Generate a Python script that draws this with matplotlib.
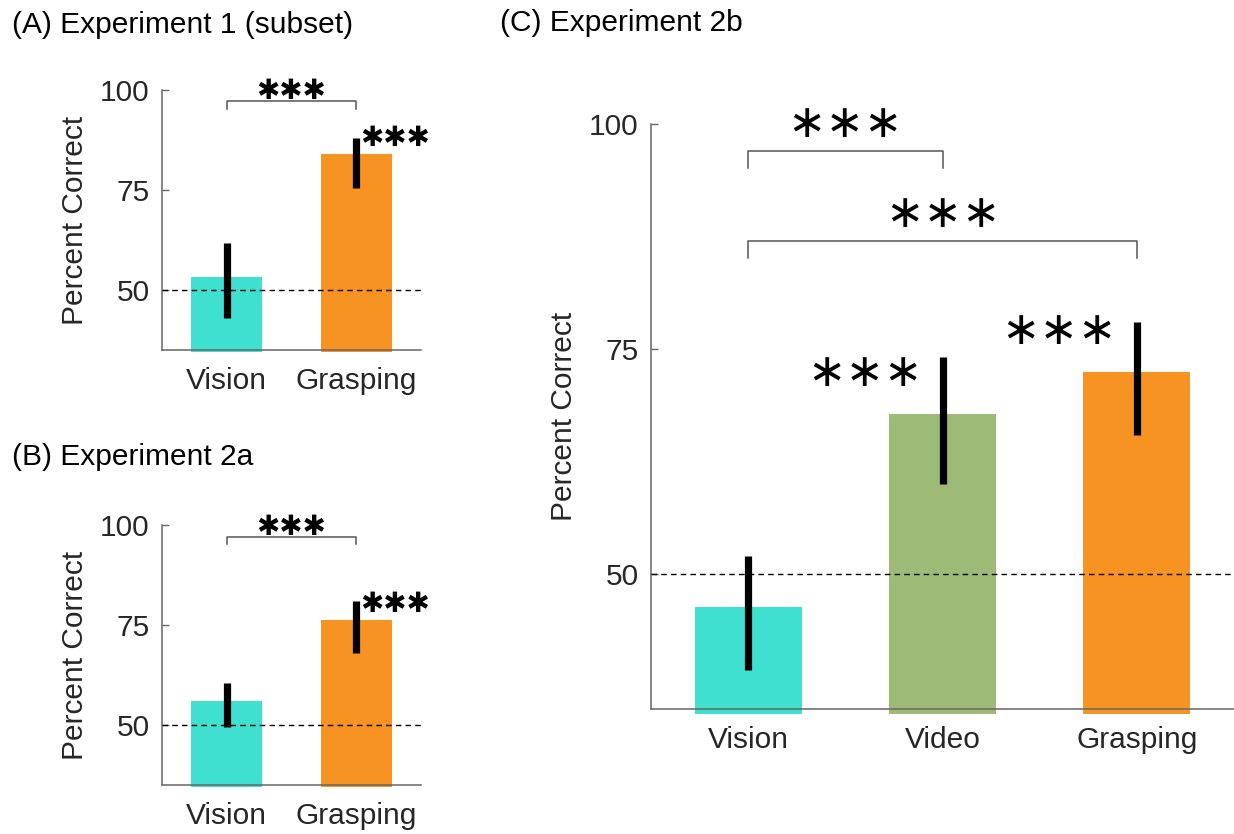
import numpy as np
import matplotlib.pyplot as plt

plt.rcParams['font.family'] = ['Liberation Sans', 'DejaVu Sans']

# group means with lower / upper error limits (percent correct)
conds_ab = ['Vision', 'Grasping']
exp1_mean = [53.2, 84.0]
exp1_lo = [43.0, 75.5]
exp1_hi = [61.7, 88.0]

exp2a_mean = [56.1, 76.2]
exp2a_lo = [49.5, 68.1]
exp2a_hi = [60.5, 81.1]

conds_c = ['Vision', 'Video', 'Grasping']
exp2b_mean = [46.3, 67.8, 72.4]
exp2b_lo = [39.3, 60.0, 65.4]
exp2b_hi = [52.0, 74.1, 78.0]

turq = '#40E0D0'
green = '#9DBA77'
orange = '#F69322'
gray = '#555555'
tick_col = '#262626'
FS = 21.5
STARS_AB = '\u2731' * 3   # heavy asterisks, panels A/B
STARS_C = '\u2217' * 3    # asterisk operators, panel C


def bar_panel(ax, names, mean, lo, hi, colors):
    x = np.arange(1, len(names) + 1)
    mean = np.asarray(mean)
    # bars start a touch below the axis floor
    ax.bar(x, mean - 34.4, bottom=34.4, width=0.55, color=colors,
           edgecolor='none', clip_on=False, zorder=2)
    yerr = [mean - np.asarray(lo), np.asarray(hi) - mean]
    ax.errorbar(x, mean, yerr=yerr, fmt='none', ecolor='black',
                elinewidth=5.2, capsize=0, zorder=3)
    ax.axhline(50, color='black', lw=1.0, ls=(0, (4, 3)), zorder=4)
    ax.set_xlim(0.5, len(names) + 0.5)
    ax.set_ylim(35, 100)
    ax.set_yticks([50, 75, 100])
    ax.set_xticks(x)
    ax.set_xticklabels(names)
    for s in ['top', 'right']:
        ax.spines[s].set_visible(False)
    for s in ['left', 'bottom']:
        ax.spines[s].set_color('#666666')
        ax.spines[s].set_linewidth(1.1)
    ax.tick_params(axis='y', direction='in', length=5, width=1.0,
                   color='#666666', labelsize=FS, labelcolor=tick_col, pad=9)
    ax.tick_params(axis='x', length=0, labelsize=FS, labelcolor=tick_col, pad=12)
    ax.set_ylabel('Percent Correct', fontsize=FS, color=tick_col)
    return x


def bracket(ax, x1, x2, y, drop):
    ax.plot([x1, x1, x2, x2], [y - drop, y, y, y - drop], color=gray,
            lw=1.1, clip_on=False, zorder=5)


def stars(ax, x, y, s, size):
    ax.text(x, y, s, ha='center', va='center', fontsize=size,
            family=['DejaVu Sans'], clip_on=False, zorder=6)


fig = plt.figure(figsize=(12.34, 8.34), dpi=100)

# (A) Experiment 1
axA = fig.add_axes([162 / 1234, 1 - 350 / 834, 259 / 1234, 260 / 834])
xa = bar_panel(axA, conds_ab, exp1_mean, exp1_lo, exp1_hi, [turq, orange])
bracket(axA, xa[0], xa[1], 97.25, 2.0)
stars(axA, 1.5, 99.7, STARS_AB, 20)
stars(axA, 2.3, exp1_hi[1], STARS_AB, 20)
axA.yaxis.set_label_coords(-0.28, 0.5)

# (B) Experiment 2a
axB = fig.add_axes([162 / 1234, 1 - 785 / 834, 259 / 1234, 260 / 834])
xb = bar_panel(axB, conds_ab, exp2a_mean, exp2a_lo, exp2a_hi, [turq, orange])
bracket(axB, xb[0], xb[1], 97.1, 1.9)
stars(axB, 1.5, 99.5, STARS_AB, 20)
stars(axB, 2.3, exp2a_hi[1] - 0.9, STARS_AB, 20)
axB.yaxis.set_label_coords(-0.28, 0.5)

# (C) Experiment 2b
axC = fig.add_axes([651 / 1234, 1 - 709 / 834, 583 / 1234, 585 / 834])
xc = bar_panel(axC, conds_c, exp2b_mean, exp2b_lo, exp2b_hi,
               [turq, green, orange])
bracket(axC, xc[0], xc[1], 97.0, 1.9)
bracket(axC, xc[0], xc[2], 87.0, 1.9)
stars(axC, 1.5, 99.9, STARS_C, 33)
stars(axC, 2.0, 90.0, STARS_C, 33)
stars(axC, 1.6, 72.3, STARS_C, 33)
stars(axC, 2.6, 77.0, STARS_C, 33)
axC.yaxis.set_label_coords(-0.125, 0.5)

fig.text(12 / 1234, 1 - 25 / 834, '(A) Experiment 1 (subset)', fontsize=FS,
         va='center', ha='left')
fig.text(12 / 1234, 1 - 457 / 834, '(B) Experiment 2a', fontsize=FS,
         va='center', ha='left')
fig.text(500 / 1234, 1 - 23 / 834, '(C) Experiment 2b', fontsize=FS,
         va='center', ha='left')

fig.savefig('out.png', dpi=100)
